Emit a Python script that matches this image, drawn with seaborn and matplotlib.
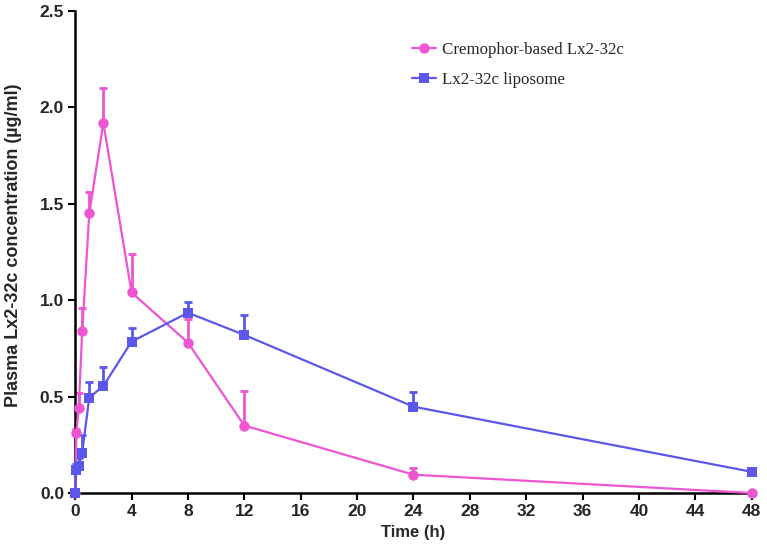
import numpy as np
import pandas as pd
import matplotlib
matplotlib.use("Agg")
import matplotlib.pyplot as plt
import seaborn as sns

# time points (h)
time_h = [0, 0.083, 0.25, 0.5, 1, 2, 4, 8, 12, 24, 48]

# Cremophor-based Lx2-32c
cremo_mean = [0, 0.31, 0.44, 0.84, 1.45, 1.92, 1.04, 0.78, 0.35, 0.095, 0.0]
cremo_sd = [0, 0.02, 0.08, 0.12, 0.11, 0.18, 0.20, 0.12, 0.18, 0.035, 0.0]

# Lx2-32c liposome
lipo_mean = [0, 0.12, 0.14, 0.21, 0.495, 0.555, 0.785, 0.935, 0.82, 0.448, 0.11]
lipo_sd = [0, 0.03, 0.04, 0.09, 0.08, 0.10, 0.07, 0.055, 0.105, 0.077, 0.015]

series_names = ["Cremophor-based Lx2-32c", "Lx2-32c liposome"]
colors = {"Cremophor-based Lx2-32c": "#EE55D2", "Lx2-32c liposome": "#5B57EA"}
markers = {"Cremophor-based Lx2-32c": "o", "Lx2-32c liposome": "s"}

df = pd.concat([
    pd.DataFrame({"time": time_h, "conc": cremo_mean, "sd": cremo_sd, "group": series_names[0]}),
    pd.DataFrame({"time": time_h, "conc": lipo_mean, "sd": lipo_sd, "group": series_names[1]}),
])

sns.set_style("ticks")
plt.rcParams['font.family'] = ['Liberation Sans', 'DejaVu Sans']

fig, ax = plt.subplots(figsize=(7.67, 5.49), dpi=100)
fig.subplots_adjust(left=0.098, right=0.980, bottom=0.102, top=0.980)

# upper-only error bars
for name in series_names:
    sub = df[df["group"] == name]
    ax.errorbar(sub["time"], sub["conc"], yerr=[np.zeros(len(sub)), sub["sd"]],
                fmt="none", ecolor=colors[name], elinewidth=2, capsize=3, capthick=2,
                clip_on=False, zorder=2)

sns.lineplot(data=df, x="time", y="conc", hue="group", style="group",
             hue_order=series_names, style_order=series_names,
             palette=colors, markers=markers, dashes=False,
             markersize=7.5, markeredgewidth=0, linewidth=1.6, ax=ax, clip_on=False, zorder=3)

ax.set_xlim(0, 48)
ax.set_ylim(0, 2.5)
ax.set_xticks(np.arange(0, 49, 4))
ax.set_yticks(np.arange(0, 2.51, 0.5))
ax.set_yticklabels([f"{v:.1f}" for v in np.arange(0, 2.51, 0.5)])
for lbl in ax.get_xticklabels() + ax.get_yticklabels():
    lbl.set_fontweight("bold")
    lbl.set_fontsize(12.5)
ax.tick_params(axis="both", direction="out", length=5, width=1.5, color="black", pad=3)

ax.set_xlabel("Time (h)", fontsize=12, fontweight="bold", labelpad=4)
ax.set_ylabel("Plasma Lx2-32c concentration (\u00b5g/ml)", fontsize=13, fontweight="bold")
ax.yaxis.set_label_coords(-0.079, 0.515)

for side in ["top", "right"]:
    ax.spines[side].set_visible(False)
for side in ["left", "bottom"]:
    ax.spines[side].set_linewidth(1.8)
    ax.spines[side].set_color("black")

leg = ax.legend(title=None, frameon=False, loc="upper left", bbox_to_anchor=(0.476, 0.967),
                prop={"family": "Liberation Serif", "size": 12.2}, handlelength=1.4,
                handletextpad=0.35, labelspacing=0.8)

fig.savefig("out.png", dpi=100)
